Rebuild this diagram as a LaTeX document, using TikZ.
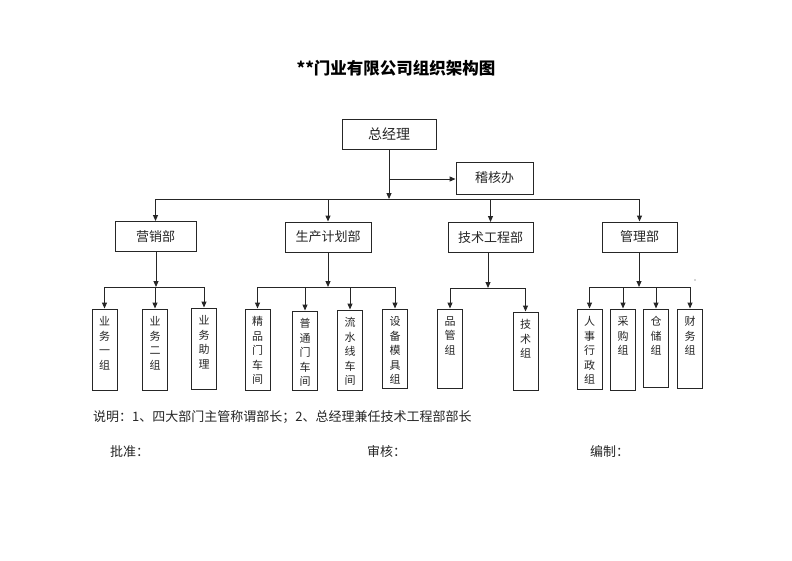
\documentclass[tikz,border=0pt]{standalone}
\usepackage{fontspec}
\setmainfont{Noto Sans CJK SC}
\usetikzlibrary{arrows.meta,calc}
\newcommand\leafbox[5]{%
  \node[leaf, minimum height={#4-#3}] (#1) at (#2,{(#3+#4)/2}) {};
  \node[leaftext] (#1t) at (#2,{#3+7.5}) {#5};}
\begin{document}
\begin{tikzpicture}[x=1pt,y=-1pt,
  line/.style={draw=black!85, line width=1pt},
  arr/.style={line, -{Triangle[length=6pt,width=5pt]}},
  box/.style={draw=black!85, line width=1pt, inner sep=0pt, rectangle, text=black!85},
  dept/.style={box, minimum height=30pt, font=\fontsize{13}{13}\selectfont},
  leaf/.style={box, minimum width=25pt},
  leaftext/.style={font=\fontsize{11}{14.5}\selectfont, align=center, inner sep=0pt, anchor=north, text=black!85},
  plain/.style={font=\fontsize{13}{13}\selectfont, inner sep=0pt, text=black!85},
]
\useasboundingbox (0,0) rectangle (792,560);
\fill[white] (0,0) rectangle (792,560);

\node[font=\fontsize{16.5}{16.5}\selectfont\bfseries, inner sep=0pt] (title) at (396,68) {**门业有限公司组织架构图};

\node[box, minimum width=94pt, minimum height=30pt, font=\fontsize{14}{14}\selectfont] (gm) at (389,134) {总经理};
\node[box, minimum width=77pt, minimum height=32pt, font=\fontsize{13}{13}\selectfont] (audit) at (494.5,178) {稽核办};

\coordinate (j) at (389,179);
\coordinate (top) at (389,199);
\draw[arr] (gm.south) -- (top);
\draw[arr] (j) -- (j -| audit.west);

\node[dept, minimum width=81pt] (sales) at (155.5,236.5) {营销部};
\node[dept, minimum width=86pt] (prod) at (328,237) {生产计划部};
\node[dept, minimum width=85pt] (tech) at (490.5,237.5) {技术工程部};
\node[dept, minimum width=75pt] (admin) at (639.5,237) {管理部};

\draw[line] (sales.north |- top) -- (admin.north |- top);
\foreach \d in {sales,prod,tech,admin}
  \draw[arr] (\d.north |- top) -- (\d.north);

% leaves
\leafbox{l1}{104.5}{309}{390}{业\\务\\一\\组}
\leafbox{l2}{155}{309}{390}{业\\务\\二\\组}
\leafbox{l3}{204}{308}{389}{业\\务\\助\\理}
\leafbox{p1}{257.5}{309}{390}{精\\品\\门\\车\\间}
\leafbox{p2}{305}{311}{390}{普\\通\\门\\车\\间}
\leafbox{p3}{350}{310}{390}{流\\水\\线\\车\\间}
\leafbox{p4}{395}{309}{388}{设\\备\\模\\具\\组}
\leafbox{t1}{450}{309}{388}{品\\管\\组}
\leafbox{t2}{525.5}{312}{390}{技\\术\\组}
\leafbox{a1}{589.5}{309}{389}{人\\事\\行\\政\\组}
\leafbox{a2}{623}{309}{390}{采\\购\\组}
\leafbox{a3}{656}{309}{387}{仓\\储\\组}
\leafbox{a4}{690}{309}{388}{财\\务\\组}

\coordinate (sb) at (156,287);
\coordinate (pb) at (328,287);
\coordinate (tb) at (488,288);
\coordinate (ab) at (639,287);
\draw[arr] (sales.south -| sb) -- (sb);
\draw[arr] (prod.south) -- (pb);
\draw[arr] (tech.south -| tb) -- (tb);
\draw[arr] (admin.south -| ab) -- (ab);

\draw[line] (l1.north |- sb) -- (l3.north |- sb);
\foreach \l in {l1,l2,l3} \draw[arr] (\l.north |- sb) -- (\l.north);
\draw[line] (p1.north |- pb) -- (p4.north |- pb);
\foreach \l in {p1,p2,p3,p4} \draw[arr] (\l.north |- pb) -- (\l.north);
\draw[line] (t1.north |- tb) -- (t2.north |- tb);
\foreach \l in {t1,t2} \draw[arr] (\l.north |- tb) -- (\l.north);
\draw[line] (a1.north |- ab) -- (a4.north |- ab);
\foreach \l in {a1,a2,a3,a4} \draw[arr] (\l.north |- ab) -- (\l.north);

\fill[black!70] (695,280) circle (0.7);

\node[plain, anchor=west] (note) at (93,417) {说明：1、四大部门主管称谓部长；2、总经理兼任技术工程部部长};
\node[plain, anchor=west] (approve) at (110,452) {批准：};
\node[plain, anchor=west] (review) at (367,452) {审核：};
\node[plain, anchor=west] (editor) at (590,452) {编制：};
\end{tikzpicture}
\end{document}
